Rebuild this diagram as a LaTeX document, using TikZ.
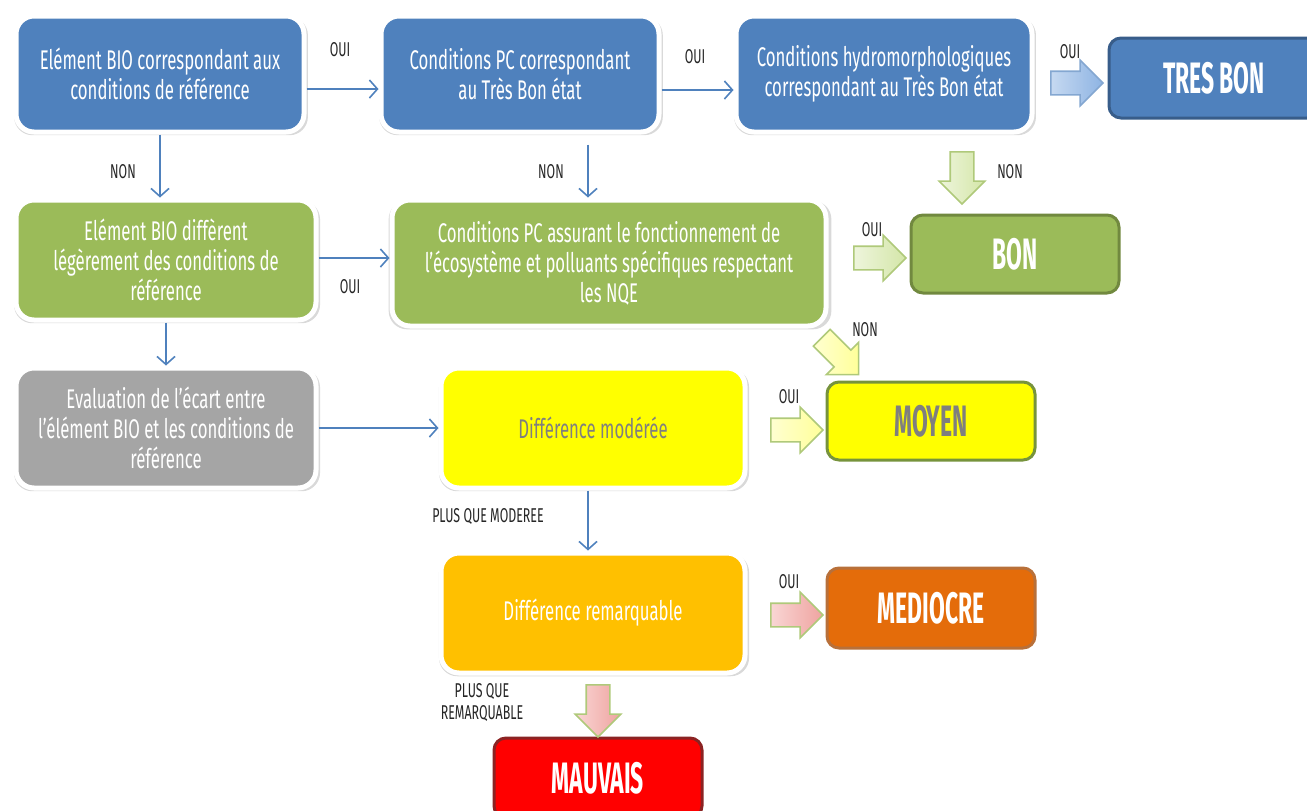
\documentclass[tikz,border=0pt]{standalone}
\usepackage{fontspec}
\setmainfont{Fira Sans}[FakeStretch=0.62]
\newfontfamily\bigfont{Fira Sans}[FakeStretch=0.52]
\usepackage{tikz}
\usetikzlibrary{arrows.meta,shapes.arrows,shadows}

\definecolor{colBleu}{HTML}{4F81BD}
\definecolor{colBleuFonce}{HTML}{385D8A}
\definecolor{colBleuClair}{HTML}{C6D9F1}
\definecolor{colBleuMoyen}{HTML}{8EB4E3}
\definecolor{colVert}{HTML}{9BBB59}
\definecolor{colVertFonce}{HTML}{71893F}
\definecolor{colVertClair}{HTML}{EEF5DC}
\definecolor{colVertMoyen}{HTML}{D4E6A8}
\definecolor{colOlive}{HTML}{77933C}
\definecolor{colGris}{HTML}{A5A5A5}
\definecolor{colGrisTexte}{HTML}{7F7F7F}
\definecolor{colJaune}{HTML}{FFFF00}
\definecolor{colJauneClair}{HTML}{FFFFD0}
\definecolor{colJauneMoyen}{HTML}{FFFF9A}
\definecolor{colOrange}{HTML}{FFC000}
\definecolor{colOrangeFonce}{HTML}{E46C0A}
\definecolor{colBrun}{HTML}{B8703A}
\definecolor{colRose}{HTML}{F9D6D4}
\definecolor{colRoseMoyen}{HTML}{EFA3A0}
\definecolor{colRouge}{HTML}{FF0000}
\definecolor{colRougeFonce}{HTML}{8B2323}

\begin{document}
\begin{tikzpicture}[x=0.5pt,y=-0.5pt,
    box/.style={rounded corners=9pt, draw=white, line width=2.5pt, text=white, align=center,
        font=\fontsize{13.5}{15}\selectfont,
        drop shadow={shadow scale=1.02,shadow xshift=0.5pt,shadow yshift=-1pt,opacity=0.3}},
    etat/.style={rounded corners=6pt, line width=1.5pt, text=white, minimum width=104pt, minimum height=39pt,
        font=\bigfont\bfseries\fontsize{22}{24}\selectfont},
    lien/.style={draw=colBleu, line width=0.8pt, -{Straight Barb[length=4pt,width=9pt]}},
    rep/.style={font=\fontsize{10}{11}\selectfont, text=black!85, align=center},
    fleche/.style={single arrow, line width=0.8pt, minimum height=26pt, minimum width=22pt,
        single arrow head extend=5.5pt, inner sep=0pt}]
    \useasboundingbox (0,0) rectangle (1307,810);
    \clip (0,0) rectangle (1307,810);

    % ligne 1
    \node[box, fill=colBleu, minimum width=144pt, minimum height=58pt] (bioref) at (160,74)
        {Elément BIO correspondant aux\\conditions de référence};
    \node[box, fill=colBleu, minimum width=139pt, minimum height=58pt] (pctbe) at (520,74)
        {Conditions PC correspondant\\au Très Bon état};
    \node[box, fill=colBleu, minimum width=148pt, minimum height=58pt] (hydro) at (884,74)
        {Conditions hydromorphologiques\\correspondant au Très Bon état};
    \node[etat, fill=colBleu, draw=colBleuFonce, minimum width=105pt, minimum height=40pt] (tresbon) at (1214,78) {TRES BON};

    % ligne 2
    \node[box, fill=colVert, minimum width=150pt, minimum height=60pt] (bioleg) at (166,260)
        {Elément BIO diffèrent\\légèrement des conditions de\\référence};
    \node[box, fill=colVert, minimum width=217pt, minimum height=63pt] (pcnqe) at (609,263)
        {Conditions PC assurant le fonctionnement de\\l'écosystème et polluants spécifiques respectant\\les NQE};
    \node[etat, fill=colVert, draw=colVertFonce] (bon) at (1015,254) {BON};

    % ligne 3 et 4
    \node[box, fill=colGris, minimum width=150pt, minimum height=60pt] (ecart) at (166,428)
        {Evaluation de l'écart entre\\l'élément BIO et les conditions de\\référence};
    \node[box, fill=colJaune, text=colGrisTexte, minimum width=152pt, minimum height=60pt] (moderee) at (593,428)
        {Différence modérée};
    \node[etat, fill=colJaune, draw=colOlive, text=colGrisTexte] (moyen) at (931,421) {MOYEN};
    \node[box, fill=colOrange, minimum width=152pt, minimum height=60pt] (remarq) at (593,613)
        {Différence remarquable};
    \node[etat, fill=colOrangeFonce, draw=colBrun, minimum height=40pt] (mediocre) at (931,608) {MEDIOCRE};
    \node[etat, fill=colRouge, draw=colRougeFonce, minimum height=40pt] (mauvais) at (598,778) {MAUVAIS};

    % liens
    \draw[lien] ([yshift=-7.5pt]bioref.east) -- ([yshift=-7.5pt]pctbe.west);
    \draw[lien] ([yshift=-8pt]pctbe.east) -- ([yshift=-8pt]hydro.west);
    \draw[lien] (bioref.south) -- (bioref.south |- bioleg.north);
    \draw[lien] ([xshift=34pt,yshift=-5pt]pctbe.south) -- ([xshift=34pt]pctbe.south |- pcnqe.north);
    \draw[lien] ([yshift=1pt]bioleg.east) -- ([yshift=1pt]bioleg.east -| pcnqe.west);
    \draw[lien] (bioleg.south) -- (ecart.north);
    \draw[lien] (ecart.east) -- (moderee.west);
    \draw[lien] ([xshift=-2.5pt]moderee.south) -- ([xshift=-2.5pt]remarq.north);

    % grosses fleches
    \node[fleche, draw=colBleu!70, left color=colBleuClair, right color=colBleuMoyen] (f1) at (1071,83) {\rule{0pt}{11pt}};
    \node[fleche, draw=colVert!80, left color=colVertClair, right color=colVertMoyen, rotate=-90] (f2) at (962,172) {\rule{0pt}{11pt}};
    \node[fleche, draw=colVert!80, left color=colVertClair, right color=colVertMoyen] (f3) at (874,258) {\rule{0pt}{11pt}};
    \node[fleche, draw=colVert!80, left color=colJauneClair, right color=colJauneMoyen, rotate=-45] (f4) at (836,352) {\rule{0pt}{11pt}};
    \node[fleche, draw=colVert!80, left color=colJauneClair, right color=colJauneMoyen] (f5) at (791,430) {\rule{0pt}{11pt}};
    \node[fleche, draw=colVert!80, left color=colRose, right color=colRoseMoyen] (f6) at (791,615) {\rule{0pt}{11pt}};
    \node[fleche, draw=colVert!80, left color=colRose, right color=colRoseMoyen, rotate=-90] (f7) at (598,705) {\rule{0pt}{11pt}};

    % reponses
    \node[rep] (oui1) at (340,50) {OUI};
    \node[rep] (oui2) at (695,57) {OUI};
    \node[rep] (oui3) at (1070,52) {OUI};
    \node[rep] (non1) at (123,172) {NON};
    \node[rep] (non2) at (551,172) {NON};
    \node[rep] (non3) at (1010,172) {NON};
    \node[rep] (oui4) at (350,287) {OUI};
    \node[rep] (oui5) at (872,230) {OUI};
    \node[rep] (non4) at (865,330) {NON};
    \node[rep] (oui6) at (789,397) {OUI};
    \node[rep] (plus1) at (488,517) {PLUS QUE MODEREE};
    \node[rep] (oui7) at (789,582) {OUI};
    \node[rep] (plus2) at (482,703) {PLUS QUE\\REMARQUABLE};
\end{tikzpicture}
\end{document}
